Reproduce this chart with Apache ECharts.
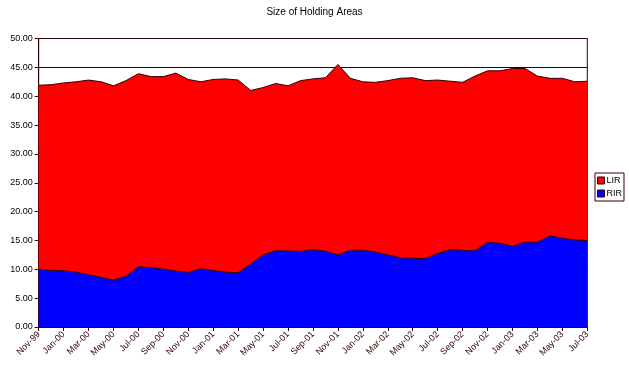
<!DOCTYPE html>
<html><head><meta charset="utf-8">
<script src="https://cdn.jsdelivr.net/npm/echarts@6/dist/echarts.min.js"></script>
<style>html,body{margin:0;padding:0;background:#fff}#c{width:629px;height:375px}</style>
</head><body><div id="c"></div>
<script>
const categories = ["Nov-99","Dec-99","Jan-00","Feb-00","Mar-00","Apr-00","May-00","Jun-00","Jul-00","Aug-00","Sep-00","Oct-00","Nov-00","Dec-00",
"Jan-01","Feb-01","Mar-01","Apr-01","May-01","Jun-01","Jul-01","Aug-01","Sep-01","Oct-01","Nov-01","Dec-01",
"Jan-02","Feb-02","Mar-02","Apr-02","May-02","Jun-02","Jul-02","Aug-02","Sep-02","Oct-02","Nov-02","Dec-02",
"Jan-03","Feb-03","Mar-03","Apr-03","May-03","Jun-03","Jul-03"];
const totalValues = [41.9,42.0,42.3,42.5,42.8,42.5,41.8,42.7,43.9,43.4,43.4,44.0,42.9,42.5,42.9,43.0,42.8,41.0,41.5,42.2,41.8,42.7,43.0,43.2,
45.5,43.1,42.5,42.4,42.7,43.1,43.2,42.7,42.8,42.6,42.4,43.5,44.4,44.4,44.8,44.8,43.5,43.1,43.1,42.5,42.6];
const rirValues = [10.0,9.8,9.76,9.5,9.06,8.6,8.14,8.8,10.45,10.3,10.04,9.7,9.46,10.1,9.8,9.5,9.4,10.9,12.5,13.2,13.2,13.1,13.4,13.15,
12.5,13.3,13.3,13.0,12.5,12.0,11.9,11.85,12.75,13.4,13.3,13.2,14.7,14.5,14.0,14.7,14.7,15.8,15.4,15.07,15.0];
const lirValues = totalValues.map((t,i)=>+(t - rirValues[i]).toFixed(2));
const yTicks = {min:0, max:50, interval:5};

const dark = '#330000';
const font = 'Liberation Sans, Arial, sans-serif';
const chart = echarts.init(document.getElementById('c'), null, {renderer:'canvas'});
chart.setOption({
  animation:false,
  backgroundColor:'#fff',
  title:{text:'Size of Holding Areas', left:'center', top:2, textStyle:{fontFamily:font, fontSize:10, fontWeight:'normal', color:'#000'}},
  legend:{orient:'vertical', left:595, top:173, data:['LIR','RIR'], icon:'rect', itemWidth:7, itemHeight:7, itemGap:4,
    padding:[3,2,3,2], borderColor:dark, borderWidth:1,
    itemStyle:{borderColor:dark, borderWidth:1},
    textStyle:{fontFamily:font, fontSize:9, color:'#000', padding:[0,0,0,-3]}},
  grid:{left:38.7, right:629-587.3, top:38.5, bottom:375-327, show:true, borderColor:dark, borderWidth:1, backgroundColor:'transparent'},
  xAxis:{type:'category', data:categories, boundaryGap:false,
    axisLine:{lineStyle:{color:dark, width:1}},
    axisTick:{interval:1, length:4, lineStyle:{color:dark}},
    axisLabel:{interval:1, rotate:45, fontFamily:font, fontSize:9, color:dark, margin:6}},
  yAxis:{type:'value', min:yTicks.min, max:yTicks.max, interval:yTicks.interval,
    axisLine:{show:true, lineStyle:{color:dark}},
    axisTick:{show:true, length:4, lineStyle:{color:dark}},
    axisLabel:{fontFamily:font, fontSize:9, color:'#000', margin:6, formatter:v=>v.toFixed(2)},
    splitLine:{show:true, lineStyle:{color:dark, width:1}}},
  series:[
    {name:'RIR', type:'line', stack:'t', data:rirValues, symbol:'none', color:'#0000FF',
      lineStyle:{color:dark, width:1}, areaStyle:{color:'#0000FF', opacity:1}, z:3},
    {name:'LIR', type:'line', stack:'t', data:lirValues, symbol:'none', color:'#FF0000',
      lineStyle:{color:dark, width:1}, areaStyle:{color:'#FF0000', opacity:1}, z:2}
  ]
});
</script></body></html>
